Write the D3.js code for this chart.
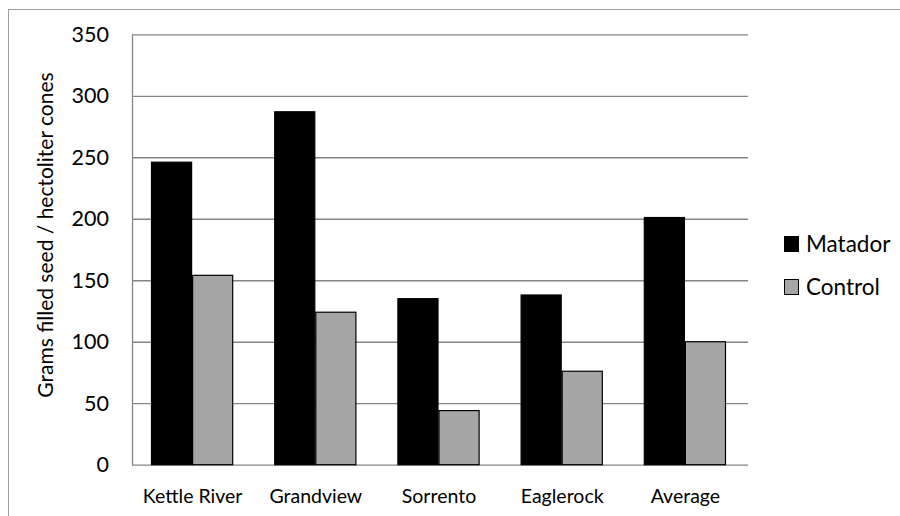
<!DOCTYPE html>
<html>
<head>
<meta charset="utf-8">
<script src="https://cdn.jsdelivr.net/npm/d3@7"></script>
<style>
  html, body { margin: 0; padding: 0; background: #fff; }
  svg { display: block; font-family: Lato, "Open Sans", sans-serif; }
</style>
</head>
<body>
<svg id="chart" width="900" height="516"></svg>
<script>
// Seed yield per site, treated (Matador) vs untreated control
const sites = ["Kettle River", "Grandview", "Sorrento", "Eaglerock", "Average"];
const seriesNames = ["Matador", "Control"];
const matador = [246, 287, 135, 138, 201];
const control = [154, 124, 44, 76, 100];
const yTicks = [0, 50, 100, 150, 200, 250, 300, 350];
const seriesColors = ["#000000", "#a6a6a6"];
const yTitle = "Grams filled seed / hectoliter cones";

const svg = d3.select("#chart");
const plot = { left: 132, right: 748, top: 34.3, bottom: 464.7 };

// outer chart frame (runs past the right and bottom edges)
svg.append("rect")
  .attr("x", 8.5).attr("y", 9.5)
  .attr("width", 1000).attr("height", 1000)
  .attr("fill", "none").attr("stroke", "#a0a0a0").attr("stroke-width", 1);

const y = d3.scaleLinear().domain([0, 350]).range([plot.bottom, plot.top]);
const x0 = d3.scaleBand().domain(sites).range([plot.left, plot.right]).padding(0);
const groupGap = 41;
const x1 = d3.scaleBand().domain(seriesNames)
  .range([groupGap / 2 - 1.5, x0.bandwidth() - groupGap / 2 - 1.5]).padding(0);

// horizontal gridlines via a left axis with full-width ticks
const yAxis = d3.axisLeft(y).tickValues(yTicks)
  .tickSize(-(plot.right - plot.left)).tickSizeOuter(0).tickPadding(23);
const gy = svg.append("g").attr("transform", `translate(${plot.left},0)`).call(yAxis);
gy.select(".domain").attr("stroke", "#868686").attr("stroke-width", 1.3);
gy.selectAll(".tick line").attr("stroke", "#868686").attr("stroke-width", 1.3);
gy.selectAll(".tick text")
  .attr("fill", "#000").attr("font-size", 21.5)
  .attr("font-family", "Lato, sans-serif");

// bars
const rows = sites.map((s, i) => ({ site: s, values: [matador[i], control[i]] }));
const groups = svg.append("g").selectAll("g").data(rows).join("g")
  .attr("transform", d => `translate(${x0(d.site)},0)`);
groups.selectAll("rect")
  .data(d => d.values.map((v, j) => ({ key: seriesNames[j], value: v, j })))
  .join("rect")
  .attr("x", d => x1(d.key) + 0.5)
  .attr("y", d => y(d.value))
  .attr("width", x1.bandwidth() - 1)
  .attr("height", d => y(0) - y(d.value))
  .attr("fill", d => seriesColors[d.j])
  .attr("stroke", "#000").attr("stroke-width", 1.2);

// category labels
const xAxis = d3.axisBottom(x0).tickSize(0).tickPadding(24);
const gx = svg.append("g").attr("transform", `translate(-1,${plot.bottom})`).call(xAxis);
gx.select(".domain").remove();
gx.selectAll(".tick text")
  .attr("fill", "#000").attr("font-size", 19.5)
  .attr("font-family", "Lato, sans-serif");

// y-axis title
svg.append("text")
  .attr("transform", "translate(53,235) rotate(-90)")
  .attr("text-anchor", "middle")
  .attr("font-size", 21)
  .attr("fill", "#000")
  .text(yTitle);

// legend
const legend = svg.append("g").selectAll("g").data(seriesNames).join("g")
  .attr("transform", (d, i) => `translate(784,${236 + i * 43})`);
legend.append("rect")
  .attr("x", 0.5).attr("y", 0.5).attr("width", 14).attr("height", 15)
  .attr("fill", (d, i) => seriesColors[i])
  .attr("stroke", "#000").attr("stroke-width", 1);
legend.append("text")
  .attr("x", 22).attr("y", 15.5)
  .attr("font-size", 22.5).attr("fill", "#000")
  .text(d => d);
</script>
</body>
</html>
